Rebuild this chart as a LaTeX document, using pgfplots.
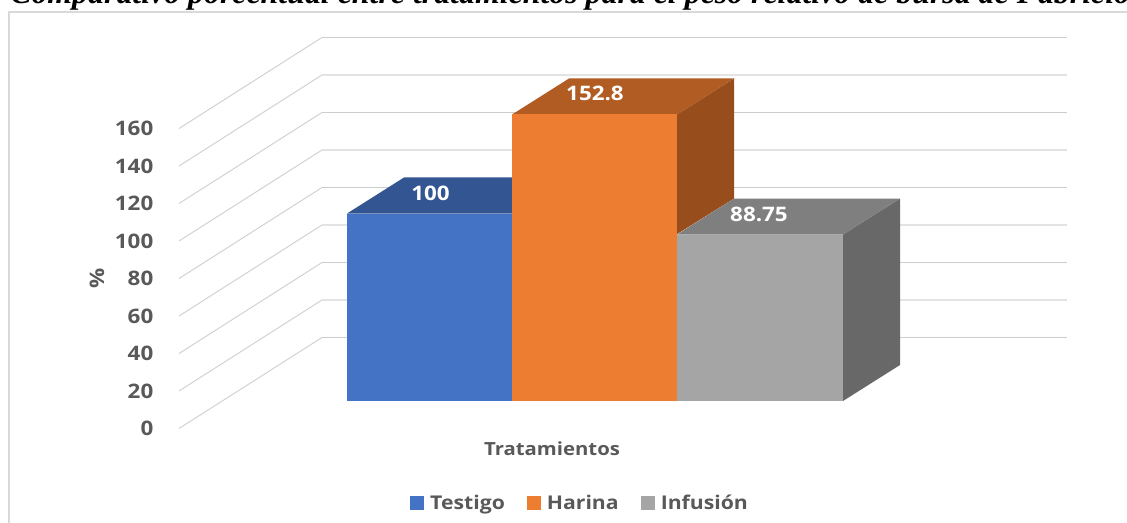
\documentclass[border=0pt]{standalone}
\usepackage{fontspec}
\setmainfont{Open Sans}[FakeStretch=1.12]
\newfontfamily\titlefont{Liberation Serif}
\usepackage{pgfplots}
\pgfplotsset{compat=1.18}
\definecolor{txt}{HTML}{595959}
\definecolor{gridA}{HTML}{CCCCCC}
\definecolor{gridB}{HTML}{E3E3E3}
\definecolor{gridL}{HTML}{D2D2D2}
\definecolor{frm}{HTML}{D9D9D9}
\definecolor{blueF}{HTML}{4472C4}
\definecolor{blueT}{HTML}{335693}
\definecolor{oranF}{HTML}{ED7D31}
\definecolor{oranT}{HTML}{B15C22}
\definecolor{oranS}{HTML}{984D1C}
\definecolor{grayF}{HTML}{A5A5A5}
\definecolor{grayT}{HTML}{7F7F7F}
\definecolor{grayS}{HTML}{686868}
\pgfplotsset{
  sq/.style={legend image code/.code={\fill[##1] (0pt,-5pt) rectangle (10.5pt,5pt);}},
  wall/.style={forget plot, gridL, line width=0.75pt},
  backA/.style={forget plot, gridA, line width=1.2pt},
  backB/.style={forget plot, gridB, line width=1.4pt},
}
\begin{document}
\begin{tikzpicture}
\useasboundingbox (0,0) rectangle (845.25pt,391.5pt);
\begin{axis}[
  at={(0,0)}, anchor=south west,
  scale only axis, width=845.25pt, height=391.5pt,
  xmin=0, xmax=1127, ymin=-64.533, ymax=213.867,
  clip=false,
  axis line style={draw=none},
  major tick length=0pt,
  xtick=\empty,
  ytick={-14.67,5.33,25.33,45.33,65.33,85.33,105.33,125.33,145.33},
  yticklabels={0,20,40,60,80,100,120,140,160},
  tick label style={font=\bfseries\fontsize{15pt}{17pt}\selectfont, text=txt},
  yticklabel style={anchor=east, xshift=118.5pt},
  tick align=outside,
  legend columns=-1,
  legend style={at={(0.5150,0.0364)}, anchor=center, draw=none, fill=none,
    font=\bfseries\fontsize{14.2pt}{16pt}\selectfont, text=txt,
    /tikz/every odd column/.style={column sep=2.5pt},
    /tikz/every even column/.style={column sep=14.5pt},
    inner sep=0pt},
]
% frame
\addplot[forget plot, frm, line width=1.1pt] coordinates {(9,-70)(9,207.5)(1128,207.5)};
% left wall
\addplot[wall] coordinates {(179,-14.67)(322,33.87)};
\addplot[wall] coordinates {(179,5.33)(322,53.87)};
\addplot[wall] coordinates {(179,25.33)(322,73.87)};
\addplot[wall] coordinates {(179,45.33)(322,93.87)};
\addplot[wall] coordinates {(179,65.33)(322,113.87)};
\addplot[wall] coordinates {(179,85.33)(322,133.87)};
\addplot[wall] coordinates {(179,105.33)(322,153.87)};
\addplot[wall] coordinates {(179,125.33)(322,173.87)};
\addplot[wall] coordinates {(179,145.33)(322,193.87)};
% back wall
\addplot[backA] coordinates {(322,33.87)(1067,33.87)};
\addplot[backB] coordinates {(322,53.87)(1067,53.87)};
\addplot[backA] coordinates {(322,73.87)(1067,73.87)};
\addplot[backB] coordinates {(322,93.87)(1067,93.87)};
\addplot[backA] coordinates {(322,113.87)(1067,113.87)};
\addplot[backB] coordinates {(322,133.87)(1067,133.87)};
\addplot[backA] coordinates {(322,153.87)(1067,153.87)};
\addplot[backB] coordinates {(322,173.87)(1067,173.87)};
\addplot[backA] coordinates {(322,193.87)(1067,193.87)};
% Testigo = 100
\addplot[forget plot, fill=blueT, draw=none] coordinates {(347,100)(512,100)(569,119.2)(404,119.2)} -- cycle;
\addplot[ybar, bar width=123.75pt, bar shift=0pt, fill=blueF, draw=none, sq] coordinates {(429.5,100)};
% Harina = 152.8
\addplot[forget plot, fill=oranS, draw=none] coordinates {(677,89)(734,108)(734,172)(677,152.8)} -- cycle;
\addplot[forget plot, fill=oranT, draw=none] coordinates {(512,152.8)(677,152.8)(734,172)(569,172)} -- cycle;
\addplot[ybar, bar width=123.75pt, bar shift=0pt, fill=oranF, draw=none, sq] coordinates {(594.5,152.8)};
% Infusion = 88.75
\addplot[forget plot, fill=grayS, draw=none] coordinates {(843,0)(900,19.2)(900,107.95)(843,88.75)} -- cycle;
\addplot[forget plot, fill=grayT, draw=none] coordinates {(677,88.75)(843,88.75)(900,107.95)(734,107.95)} -- cycle;
\addplot[ybar, bar width=124.5pt, bar shift=0pt, fill=grayF, draw=none, sq] coordinates {(760,88.75)};
\legend{Testigo,Harina,Infusión}
% data labels
\node[text=white, font=\bfseries\fontsize{15pt}{17pt}\selectfont] at (axis cs:430.5,111) {100};
\node[text=white, font=\bfseries\fontsize{15pt}{17pt}\selectfont] at (axis cs:595,164) {152.8};
\node[text=white, font=\bfseries\fontsize{15pt}{17pt}\selectfont] at (axis cs:759,99.7) {88.75};
% texts
\node[text=txt, font=\bfseries\fontsize{13.6pt}{15pt}\selectfont] at (axis cs:552,-25.6) {Tratamientos};
\node[text=txt, font=\bfseries\fontsize{15pt}{17pt}\selectfont, rotate=90] at (axis cs:97,65.6) {\%};
\node[anchor=base west, inner sep=0pt, font=\titlefont\bfseries\itshape\fontsize{23.9pt}{26pt}\selectfont, text=black] at (axis cs:10,212) {Comparativo porcentual entre tratamientos para el peso relativo de bursa de Fabricio};
\end{axis}
\end{tikzpicture}
\end{document}
